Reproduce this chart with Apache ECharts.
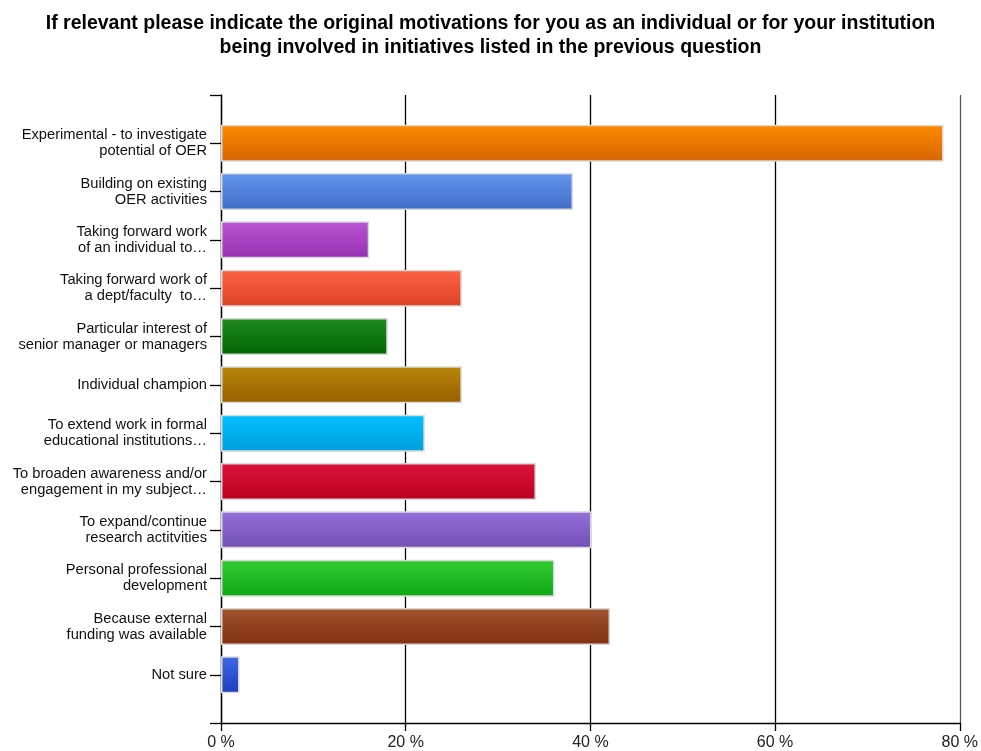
<!DOCTYPE html>
<html>
<head>
<meta charset="utf-8">
<script src="https://cdn.jsdelivr.net/npm/echarts@6/dist/echarts.min.js"></script>
<style>
html,body{margin:0;padding:0;background:#fff;}
#chart{width:981px;height:751px;}
</style>
</head>
<body>
<div id="chart"></div>
<script>
// ---- data ----
const titleText = "If relevant please indicate the original motivations for you as an individual or for your institution\nbeing involved in initiatives listed in the previous question";
const categories = [
  "Experimental - to investigate\npotential of OER",
  "Building on existing\nOER activities",
  "Taking forward work\nof an individual to…",
  "Taking forward work of\na dept/faculty  to…",
  "Particular interest of\nsenior manager or managers",
  "Individual champion",
  "To extend work in formal\neducational institutions…",
  "To broaden awareness and/or\nengagement in my subject…",
  "To expand/continue\nresearch actitvities",
  "Personal professional\ndevelopment",
  "Because external\nfunding was available",
  "Not sure"
];
const values = [78, 38, 16, 26, 18, 26, 22, 34, 40, 36, 42, 2];
const xTicks = [0, 20, 40, 60, 80];

// ---- styles ----
const topColors = ["#FF8C00","#6495ED","#BA55D3","#FF6347","#228B22","#B8860B","#00BFFF","#DC143C","#9370DB","#32CD32","#A0522D","#4169E1"];
const bottomColors = ["#D86400","#3F6CC8","#9530B2","#DC4126","#006400","#986000","#009FDC","#BA001E","#7350B4","#0FA616","#823010","#1E3EBE"];

const chart = echarts.init(document.getElementById('chart'));
const FONT = "'Liberation Sans', Arial, sans-serif";

const barData = values.map((v, i) => ({
  value: v,
  itemStyle: {
    color: new echarts.graphic.LinearGradient(0, 0, 0, 1, [
      {offset: 0, color: topColors[i]},
      {offset: 1, color: bottomColors[i]}
    ]),
    borderColor: '#d9d9d9',
    borderWidth: 1.5
  }
}));

chart.setOption({
  animation: false,
  backgroundColor: '#fff',
  title: {
    text: titleText,
    left: 'center',
    top: 12,
    padding: 0,
    textStyle: {fontFamily: FONT, fontSize: 19.5, fontWeight: 'bold', color: '#000', lineHeight: 24}
  },
  grid: [
    {left: 221, right: 19, top: 95, bottom: 28},
    {left: 221, right: 19, top: 119, bottom: 52}
  ],
  xAxis: [
    {
      gridIndex: 0, type: 'value', min: xTicks[0], max: xTicks[xTicks.length - 1], interval: 20,
      axisLine: {show: true, lineStyle: {color: '#000', width: 1.3}},
      axisTick: {show: true, length: 8, lineStyle: {color: '#000', width: 1.3}},
      axisLabel: {
        show: true, margin: 12, fontFamily: FONT, fontSize: 16, color: '#222',
        formatter: v => v + ' %'
      },
      splitLine: {show: true, lineStyle: {color: ['#000', '#000', '#000', '#000', '#555'], width: 1.3}}
    },
    {
      gridIndex: 1, type: 'value', min: xTicks[0], max: xTicks[xTicks.length - 1], interval: 20,
      show: false
    }
  ],
  yAxis: [
    {
      gridIndex: 0, type: 'value', min: 0, max: 1, interval: 1,
      axisLine: {show: true, lineStyle: {color: '#000', width: 1.3}},
      axisTick: {show: true, length: 11, lineStyle: {color: '#000', width: 1.3}},
      axisLabel: {show: false},
      splitLine: {show: false}
    },
    {
      gridIndex: 1, type: 'category', inverse: true, data: categories,
      axisLine: {show: false},
      axisTick: {show: true, alignWithLabel: true, length: 11, lineStyle: {color: '#000', width: 1.3}},
      axisLabel: {
        margin: 14, fontFamily: FONT, fontSize: 14.7, color: '#111', lineHeight: 16, align: 'right'
      },
      splitLine: {show: false}
    }
  ],
  series: [
    {
      type: 'bar', xAxisIndex: 1, yAxisIndex: 1,
      data: barData,
      barWidth: 37
    }
  ]
});
</script>
</body>
</html>
